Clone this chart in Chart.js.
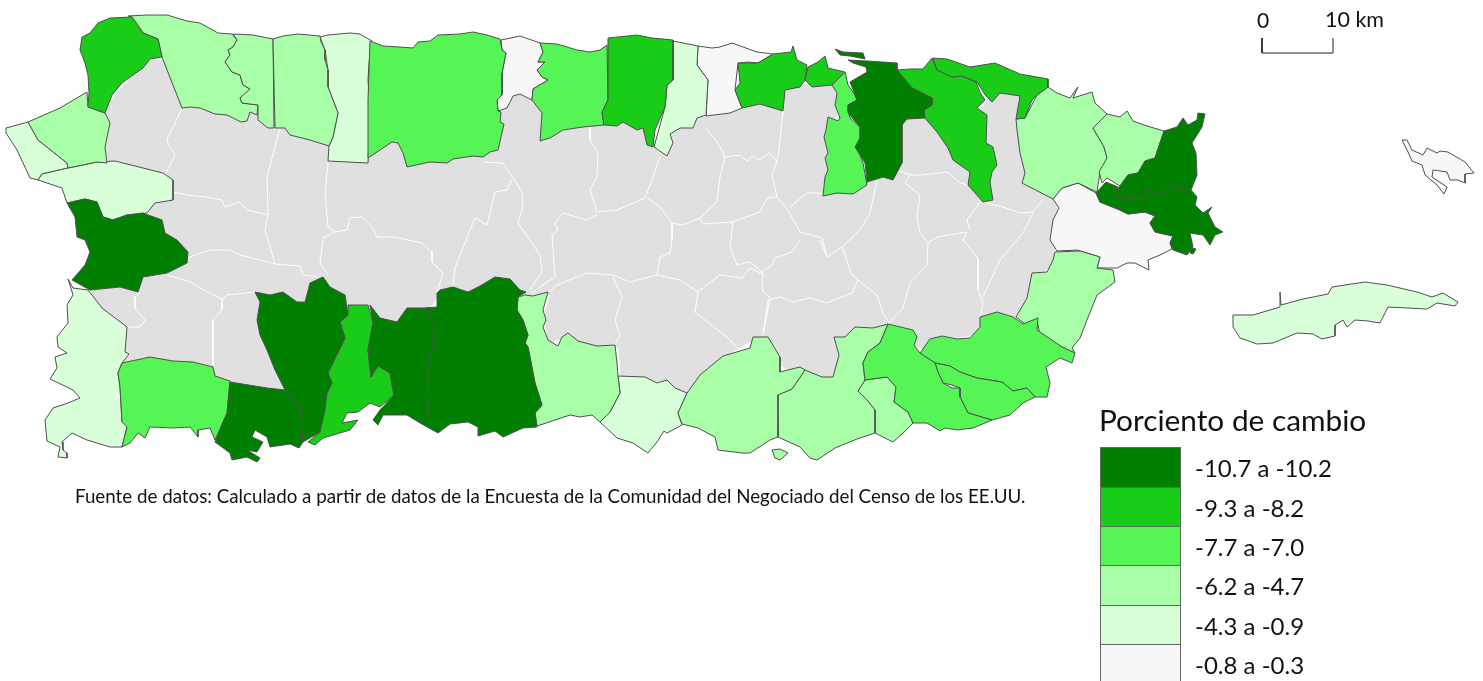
<!DOCTYPE html>
<html lang="es">
<head>
    <meta charset="UTF-8">
    <script src="https://cdn.jsdelivr.net/npm/chart.js"></script>
    <title>Porciento de cambio</title>
    <style>
        html, body { margin: 0; padding: 0; background: #fff; overflow: hidden; }
        #wrap { position: relative; width: 1483px; height: 681px; font-family: Lato, sans-serif; color: #111; }
        #mapa { position: absolute; left: 0; top: 0; }
        .txt { position: absolute; white-space: nowrap; line-height: 1; }
        .swatch { position: absolute; left: 1100px; width: 81px; box-sizing: border-box; border: 1px solid #666; }
    </style>
</head>
<body>
<div id="wrap">
    <canvas id="mapa" width="1483" height="681"></canvas>
</div>
<script>
// clases de la leyenda
const legendTitle = 'Porciento de cambio';
const legendLabels = ['-10.7 a -10.2', '-9.3 a -8.2', '-7.7 a -7.0', '-6.2 a -4.7', '-4.3 a -0.9', '-0.8 a -0.3'];
const classColors = ['#007f00', '#18cc18', '#55f555', '#a8ffa8', '#d9ffd9', '#f7f7f7'];
const restColor = '#e0e0e0';
const sourceText = 'Fuente de datos: Calculado a partir de datos de la Encuesta de la Comunidad del Negociado del Censo de los EE.UU.';

// contornos, en pixeles
const interior = [[110,100],[147,60],[170,60],[190,105],[260,110],[300,125],[335,130],[350,150],[380,145],[400,140],[420,150],[490,145],[497,130],[500,108],[520,90],[530,92],[545,115],[545,135],[600,120],[620,118],[640,125],[650,140],[665,140],[670,120],[700,110],[740,105],[780,100],[790,85],[830,83],[840,95],[835,130],[835,190],[850,190],[875,175],[895,175],[897,125],[905,115],[925,115],[940,130],[955,155],[975,175],[975,188],[985,198],[985,170],[985,145],[980,110],[990,95],[1000,90],[1022,93],[1020,118],[1022,150],[1030,180],[1056,200],[1058,215],[1055,245],[1055,262],[1040,275],[1030,300],[1020,318],[1000,318],[982,320],[975,335],[945,340],[925,350],[910,345],[910,335],[888,328],[870,332],[850,335],[840,340],[842,355],[836,380],[820,380],[810,376],[790,372],[776,362],[760,342],[750,342],[723,358],[712,368],[700,378],[687,396],[675,390],[667,383],[645,380],[620,380],[620,365],[618,347],[597,349],[578,345],[568,336],[560,340],[548,343],[545,325],[545,310],[550,295],[525,295],[510,285],[495,282],[480,290],[453,292],[437,297],[428,312],[407,312],[397,325],[380,320],[370,308],[348,308],[330,290],[323,280],[310,287],[305,305],[285,296],[270,298],[262,300],[262,320],[270,350],[280,372],[290,394],[265,392],[230,385],[213,378],[193,366],[150,360],[122,366],[122,340],[95,305],[88,289],[110,280],[150,270],[180,258],[160,235],[150,218],[148,208],[165,190],[120,175],[100,150],[100,120]];

const aguadilla = [[132,17],[143,33],[158,39],[162,57],[150,59],[143,68],[133,75],[122,83],[112,95],[105,113],[88,107],[89,93],[88,75],[85,63],[80,50],[82,37],[90,33],[98,23],[110,18]];
const isabela = [[128,16],[147,15],[167,15],[187,21],[200,23],[218,33],[232,34],[237,40],[233,47],[228,50],[230,55],[225,62],[232,72],[240,75],[243,85],[250,89],[247,95],[240,98],[242,103],[258,105],[257,115],[250,112],[247,121],[241,122],[227,115],[215,114],[200,108],[190,107],[182,108],[162,57],[158,39],[143,33],[132,17]];
const quebradillas = [[233,34],[253,35],[273,39],[274,128],[268,128],[258,120],[258,105],[242,103],[240,98],[250,89],[243,85],[240,75],[232,72],[225,62],[230,55],[228,50],[233,47],[237,40]];
const camuy = [[273,39],[283,36],[298,34],[320,36],[321,42],[325,50],[325,60],[328,70],[328,87],[333,100],[338,113],[333,137],[329,146],[310,140],[290,135],[285,128],[275,128]];
const hatillo = [[320,37],[328,35],[350,33],[360,34],[372,41],[369,63],[368,80],[370,110],[368,163],[328,161],[329,146],[333,137],[338,113],[328,87],[328,70],[325,50]];
const arecibo = [[370,41],[383,46],[400,47],[413,48],[418,42],[430,41],[438,35],[460,34],[473,32],[487,35],[500,39],[502,50],[506,53],[502,73],[502,95],[497,100],[498,111],[501,112],[500,122],[504,124],[498,150],[490,152],[483,157],[473,156],[453,159],[447,163],[430,162],[407,167],[403,153],[398,143],[392,142],[368,158],[368,100]];
const barceloneta = [[501,40],[520,36],[540,43],[543,52],[538,62],[545,62],[537,70],[542,77],[548,80],[533,89],[532,100],[520,94],[513,96],[507,108],[498,111],[497,100],[502,95],[502,73],[506,53],[502,50]];
const manati = [[540,43],[557,44],[577,50],[590,52],[600,50],[607,45],[608,100],[602,112],[604,125],[583,127],[563,130],[550,138],[540,141],[542,113],[532,100],[533,89],[548,80],[542,77],[537,70],[545,62],[538,62],[543,52]];
const vegaBaja = [[608,38],[637,35],[652,38],[673,40],[673,80],[667,85],[665,107],[655,130],[653,147],[647,145],[643,128],[637,130],[623,122],[617,126],[604,125],[602,112],[608,100]];
const vegaAlta = [[673,41],[698,46],[697,65],[708,80],[706,115],[697,118],[693,128],[680,128],[670,134],[673,143],[667,156],[654,147],[665,107],[667,85],[673,80]];
const dorado = [[698,46],[712,48],[720,47],[732,43],[757,52],[773,54],[758,63],[748,62],[738,63],[735,90],[742,108],[730,113],[706,116],[708,80],[697,65]];
const toaBaja = [[738,63],[758,63],[773,54],[791,52],[793,46],[797,60],[807,65],[805,80],[800,87],[785,90],[783,111],[760,104],[742,108],[735,90],[740,83]];
const catano = [[808,67],[818,62],[825,56],[828,68],[845,72],[832,85],[812,87],[805,80]];
const guaynabo = [[845,72],[832,85],[837,93],[835,105],[840,118],[838,121],[828,117],[826,130],[824,137],[828,153],[825,158],[828,170],[825,177],[823,196],[837,193],[853,194],[867,185],[863,163],[857,147],[860,138],[860,127],[850,118],[848,110],[848,105],[857,100],[855,95],[848,85]];
const sanJuan = [[848,60],[867,61],[897,63],[897,70],[912,88],[932,98],[932,105],[924,110],[925,118],[907,119],[902,125],[902,163],[893,180],[883,177],[867,182],[865,163],[855,147],[860,138],[860,127],[848,113],[848,105],[857,100],[850,82],[867,72],[866,67],[853,63]];
const sanJuanIsleta = [[835,49],[843,52],[863,53],[865,59],[850,56],[840,55]];
const carolina = [[897,70],[910,69],[923,69],[932,58],[937,70],[952,77],[962,76],[976,82],[980,92],[985,100],[977,108],[987,115],[986,143],[993,147],[997,165],[992,172],[990,182],[993,200],[983,202],[968,185],[970,172],[953,160],[948,148],[937,132],[924,117],[924,110],[932,105],[932,98],[912,88]];
const loiza = [[933,58],[947,59],[970,67],[995,63],[1020,74],[1048,79],[1048,87],[1037,95],[1032,100],[1025,118],[1016,119],[1020,96],[1000,93],[992,102],[985,95],[977,82],[962,76],[952,77],[937,70]];
const rioGrande = [[1048,87],[1057,93],[1070,98],[1078,87],[1073,98],[1092,92],[1095,103],[1107,114],[1093,128],[1104,147],[1107,158],[1100,172],[1097,192],[1078,183],[1062,188],[1053,199],[1022,183],[1025,173],[1020,153],[1017,130],[1016,119],[1025,118],[1037,95]];
const luquillo = [[1107,114],[1120,117],[1127,111],[1133,121],[1147,126],[1164,131],[1155,158],[1145,161],[1138,173],[1128,175],[1120,186],[1107,178],[1102,183],[1099,172],[1107,158],[1104,147],[1093,128]];
const fajardo = [[1164,131],[1177,127],[1183,118],[1188,125],[1197,120],[1198,113],[1205,114],[1202,127],[1192,143],[1196,153],[1197,175],[1191,190],[1170,187],[1158,196],[1147,190],[1142,200],[1120,198],[1115,192],[1120,186],[1128,175],[1138,173],[1145,161],[1155,158]];
const ceiba = [[1191,190],[1197,197],[1195,205],[1203,213],[1212,207],[1208,213],[1215,227],[1223,232],[1215,235],[1210,245],[1203,235],[1190,233],[1193,247],[1187,255],[1173,250],[1170,243],[1173,236],[1155,232],[1150,223],[1155,216],[1145,212],[1128,214],[1120,210],[1100,202],[1096,193],[1106,182],[1118,187],[1115,192],[1120,198],[1142,200],[1147,190],[1158,196],[1170,187]];
const ceibaCayo = [[1192,248],[1196,249],[1193,254],[1190,253]];
const humacao = [[1053,199],[1062,188],[1078,183],[1096,193],[1100,202],[1120,210],[1128,214],[1145,212],[1155,216],[1150,223],[1155,232],[1173,236],[1170,243],[1172,249],[1160,255],[1148,260],[1149,270],[1135,263],[1127,263],[1117,268],[1108,268],[1097,268],[1100,257],[1077,250],[1057,251],[1050,240],[1053,220],[1059,208]];
const yabucoa = [[1055,252],[1080,251],[1100,257],[1097,268],[1113,270],[1115,282],[1097,295],[1087,320],[1080,338],[1072,348],[1075,353],[1062,347],[1040,335],[1037,320],[1025,324],[1016,317],[1027,298],[1032,273],[1047,272],[1053,260]];
const maunabo = [[980,317],[997,312],[1013,317],[1023,324],[1038,318],[1037,330],[1062,347],[1075,353],[1072,363],[1060,358],[1046,367],[1050,383],[1047,397],[1035,397],[1027,388],[1013,391],[1002,382],[977,378],[960,372],[950,366],[935,363],[920,353],[930,339],[942,336],[957,339],[970,338],[980,327]];
const patillas = [[935,363],[950,366],[960,372],[977,378],[1002,382],[1013,391],[1027,388],[1035,397],[1023,403],[1010,415],[992,420],[968,413],[960,397],[960,388],[952,385],[943,383],[938,372]];
const guayama = [[888,324],[913,330],[917,337],[914,345],[920,353],[935,363],[938,372],[943,383],[952,388],[960,388],[960,397],[968,413],[992,420],[973,428],[957,430],[945,428],[940,431],[927,423],[913,423],[908,412],[894,402],[896,387],[887,377],[865,380],[863,363],[868,352],[880,343]];
const arroyoOeste = [[887,377],[896,387],[894,402],[908,412],[913,423],[903,433],[893,442],[875,433],[875,410],[867,400],[858,391],[865,380]];
const salinas = [[855,327],[873,328],[888,324],[880,343],[868,352],[863,363],[865,380],[858,391],[867,400],[875,410],[875,433],[857,439],[835,448],[817,460],[810,458],[800,447],[778,437],[777,395],[792,389],[805,370],[822,377],[833,377],[839,355],[834,337],[845,337]];
const salinasCayo = [[772,450],[780,449],[788,453],[780,460],[775,458]];
const santaIsabel = [[753,337],[768,337],[780,357],[780,372],[800,367],[805,370],[792,389],[778,395],[778,437],[770,440],[750,453],[742,453],[718,450],[715,437],[698,428],[682,424],[678,413],[687,393],[700,375],[712,365],[723,356],[750,348]];
const ponce = [[618,376],[645,377],[657,383],[667,380],[675,388],[687,393],[678,413],[682,425],[667,433],[664,431],[657,442],[648,453],[633,443],[617,438],[600,422],[610,412],[620,393]];
const juanaDiaz = [[518,297],[525,295],[533,296],[548,292],[543,310],[546,320],[543,327],[548,340],[558,346],[562,337],[568,333],[578,341],[597,346],[615,345],[617,363],[618,376],[620,393],[610,412],[600,422],[592,415],[580,417],[570,415],[537,426],[535,413],[542,405],[535,383],[528,347],[525,343],[528,335],[523,320],[517,310]];
const penuelas = [[437,293],[440,290],[453,287],[468,292],[480,286],[495,277],[510,279],[520,290],[526,292],[518,297],[517,310],[523,320],[528,335],[525,343],[528,347],[535,383],[542,405],[535,413],[537,427],[523,428],[503,437],[495,431],[478,436],[478,427],[468,422],[450,424],[438,433],[420,423],[428,413],[427,373],[435,337],[425,308],[437,307]];
const guayanilla = [[370,305],[380,318],[397,322],[407,308],[428,308],[435,337],[427,373],[428,413],[420,423],[407,415],[383,415],[378,425],[373,420],[380,410],[394,395],[390,373],[378,366],[371,377],[368,350],[373,323]];
const sabanaGrande = [[348,305],[368,305],[373,323],[368,350],[371,377],[378,366],[390,373],[394,395],[380,407],[370,403],[358,412],[347,413],[342,423],[358,420],[350,430],[323,438],[315,445],[308,442],[320,432],[322,413],[327,393],[332,383],[328,373],[345,338],[340,322],[348,315]];
const yauco = [[255,292],[270,295],[283,292],[297,302],[305,302],[310,283],[323,277],[330,287],[345,295],[348,315],[340,322],[345,338],[328,373],[332,383],[327,393],[325,410],[320,432],[303,442],[300,407],[285,390],[275,370],[267,350],[260,335],[257,320],[260,302]];
const guanica = [[230,382],[267,388],[285,390],[300,407],[303,442],[299,448],[290,444],[270,447],[267,437],[255,430],[252,437],[263,442],[257,452],[247,450],[260,458],[257,462],[247,457],[232,460],[230,453],[215,442],[227,413]];
const lajas = [[122,363],[150,357],[173,361],[193,362],[213,367],[215,376],[230,381],[227,413],[215,440],[210,428],[198,430],[198,437],[190,427],[173,428],[150,427],[145,438],[138,433],[130,443],[122,447],[127,427],[122,422],[120,387],[118,373]];
const caboRojo = [[68,279],[73,288],[88,290],[102,308],[127,327],[125,352],[129,354],[122,363],[118,373],[120,387],[122,422],[127,427],[122,447],[110,447],[87,440],[72,433],[62,442],[63,450],[67,453],[67,458],[58,457],[60,447],[47,441],[45,420],[53,408],[68,403],[80,398],[73,390],[50,379],[57,368],[55,357],[67,353],[58,347],[57,337],[68,323],[67,305],[73,295]];
const mayaguez = [[67,203],[85,199],[97,202],[103,217],[113,220],[127,215],[143,213],[162,220],[165,233],[177,240],[188,252],[187,263],[167,273],[143,277],[138,292],[120,287],[90,290],[72,280],[85,265],[90,252],[85,240],[77,237],[75,217]];
const anasco = [[38,180],[42,174],[68,168],[97,162],[115,161],[163,173],[173,180],[173,200],[155,203],[147,213],[127,215],[113,220],[103,217],[97,202],[85,199],[67,203],[62,188]];
const rincon = [[6,128],[28,122],[38,140],[67,163],[68,168],[42,174],[38,180],[30,178],[17,150],[6,133]];
const aguada = [[28,122],[60,108],[87,92],[88,107],[105,113],[110,123],[105,147],[107,163],[97,162],[68,168],[67,163],[38,140]];
const vieques = [[1233,315],[1253,315],[1280,307],[1280,292],[1281,305],[1303,299],[1328,294],[1332,287],[1365,282],[1387,285],[1417,292],[1432,297],[1443,293],[1458,302],[1455,306],[1437,303],[1427,309],[1388,307],[1380,323],[1368,321],[1355,320],[1347,327],[1343,320],[1335,325],[1335,336],[1322,339],[1313,334],[1297,333],[1273,343],[1257,344],[1240,338],[1233,327]];
const culebra = [[1402,140],[1407,140],[1412,150],[1423,155],[1427,148],[1437,153],[1440,151],[1448,152],[1465,162],[1474,173],[1465,174],[1465,183],[1458,180],[1450,180],[1447,172],[1433,170],[1432,177],[1447,187],[1444,194],[1437,185],[1425,175],[1422,165],[1412,161],[1408,152]];

// limites blancos dentro del area sin clase
const internalLines = [
    [[182,108],[175,123],[168,137],[167,142],[175,155],[165,175]],
    [[173,192],[187,195],[207,197],[222,200],[225,207],[240,202],[247,210],[268,215],[265,230],[268,240],[275,264]],
    [[280,128],[267,177],[268,215]],
    [[328,163],[325,193],[328,227],[335,232],[323,238],[320,263],[328,275]],
    [[335,232],[347,230],[350,218],[362,217],[373,228],[377,237],[393,237],[422,243],[432,252],[432,262],[443,273],[437,292]],
    [[483,162],[503,163],[513,178],[522,192],[523,207],[518,223],[530,240],[540,255],[542,272],[530,290]],
    [[512,180],[507,190],[495,192],[490,213],[487,225],[475,218],[470,230],[462,250],[455,268],[453,285]],
    [[590,127],[590,140],[598,153],[597,177],[590,190],[597,212],[617,210],[645,198],[650,185],[660,157]],
    [[597,215],[587,220],[563,213],[555,223],[558,230],[552,235],[555,277],[540,287],[532,293]],
    [[648,198],[660,207],[672,223],[683,225],[700,218],[717,202],[720,177],[725,157],[718,143],[705,127]],
    [[725,157],[740,155],[747,161],[753,156],[758,160],[770,153],[778,163]],
    [[700,218],[703,224],[733,222],[760,212],[767,198],[777,197]],
    [[672,223],[672,240],[670,253],[660,257],[657,275]],
    [[733,222],[730,247],[737,265],[750,262],[763,273],[762,290],[770,298],[763,335]],
    [[783,90],[783,113],[778,157],[772,175],[777,197],[788,210],[800,232],[822,238],[827,257]],
    [[822,193],[807,193],[790,207]],
    [[877,180],[870,213],[860,230],[842,247],[827,257],[820,240]],
    [[842,247],[852,275],[858,280],[877,295],[883,313],[890,324]],
    [[800,240],[792,252],[775,258],[772,265],[760,273],[750,268],[742,278],[720,275],[698,292],[695,312],[728,338],[739,350]],
    [[858,280],[852,293],[827,303],[810,298],[793,302],[780,297],[768,300],[763,335]],
    [[890,322],[903,308],[910,283],[927,265],[928,243],[920,233],[917,217],[920,195],[905,183],[910,175]],
    [[897,170],[910,175],[923,175],[947,172],[960,183],[968,185]],
    [[928,243],[937,237],[967,232],[963,240],[978,258],[978,290],[983,303],[980,318]],
    [[983,297],[1000,260],[1023,233],[1033,213]],
    [[980,202],[967,220],[970,230]],
    [[983,202],[1003,207],[1020,213],[1033,212],[1043,200]],
    [[698,292],[680,280],[657,275],[630,282],[613,275],[587,273],[557,285],[548,292]],
    [[613,277],[622,297],[615,320],[620,335],[615,345]],
    [[187,258],[210,250],[230,250],[240,255],[275,264],[300,266],[303,275],[317,277]],
    [[167,275],[190,282],[207,292],[222,299],[222,310],[213,320],[213,365]],
    [[222,299],[227,295],[255,292]],
    [[140,293],[135,297],[135,308],[145,320],[140,327],[128,327]]
];

// barra de escala
const scaleBar = [[1262,38],[1262,53],[1333,53],[1333,38]];
const scaleLabels = ['0', '10 km'];

// municipios por clase, en el orden en que se pintan
const byClass = [
    [mayaguez, yauco, guanica, penuelas, guayanilla, sanJuan, sanJuanIsleta, fajardo, ceiba, ceibaCayo],
    [aguadilla, vegaBaja, toaBaja, catano, carolina, loiza, sabanaGrande],
    [arecibo, manati, guaynabo, maunabo, patillas, guayama, lajas],
    [isabela, quebradillas, camuy, aguada, rioGrande, luquillo, yabucoa, arroyoOeste, salinas, salinasCayo, santaIsabel, juanaDiaz],
    [hatillo, vegaAlta, rincon, anasco, caboRojo, ponce, vieques],
    [barceloneta, dorado, humacao, culebra]
];

function closed(points) {
    return points.concat([points[0]]);
}

function polygon(points, color) {
    return {
        data: closed(points),
        showLine: true,
        fill: 'shape',
        backgroundColor: color,
        borderColor: '#4f4f4f',
        borderWidth: 1,
        borderJoinStyle: 'round',
        pointRadius: 0
    };
}

var datasets = [];
var base = polygon(interior, restColor);
base.borderWidth = 0;
datasets.push(base);

for (var i = 0; i < internalLines.length; i++) {
    datasets.push({ data: internalLines[i], showLine: true, fill: false, borderColor: '#ffffff', borderWidth: 1, pointRadius: 0 });
}

// las clases claras van debajo para que los bordes oscuros queden arriba
for (var c = byClass.length - 1; c >= 0; c--) {
    for (var m = 0; m < byClass[c].length; m++) {
        datasets.push(polygon(byClass[c][m], classColors[c]));
    }
}

datasets.push({ data: scaleBar, showLine: true, fill: false, borderColor: '#222222', borderWidth: 1, pointRadius: 0 });

// Chart.js pinta primero el ultimo dataset
datasets.reverse();

new Chart(document.getElementById('mapa').getContext('2d'), {
    type: 'scatter',
    data: { datasets: datasets },
    options: {
        responsive: false,
        animation: false,
        layout: { padding: 0 },
        plugins: { legend: { display: false }, tooltip: { enabled: false } },
        scales: {
            x: { type: 'linear', min: 0, max: 1483, display: false },
            y: { type: 'linear', min: 0, max: 681, reverse: true, display: false }
        }
    }
});

// textos y leyenda
var wrap = document.getElementById('wrap');

function addText(text, left, top, size) {
    var d = document.createElement('div');
    d.className = 'txt';
    d.textContent = text;
    d.style.left = left + 'px';
    d.style.top = top + 'px';
    d.style.fontSize = size + 'px';
    wrap.appendChild(d);
    return d;
}

addText(scaleLabels[0], 1257, 9, 21);
addText(scaleLabels[1], 1325, 9, 21.5);
addText(legendTitle, 1099, 405, 29.8);
addText(sourceText, 75, 487, 18.75);

const swatchTops = [447, 487, 526, 565, 605, 644];
for (var k = 0; k < legendLabels.length; k++) {
    var s = document.createElement('div');
    s.className = 'swatch';
    s.style.top = swatchTops[k] + 'px';
    s.style.height = (k < 5 ? swatchTops[k + 1] - swatchTops[k] + 1 : 40) + 'px';
    s.style.background = classColors[k];
    wrap.appendChild(s);
    addText(legendLabels[k], 1195, swatchTops[k] + 9, 24);
}
</script>
</body>
</html>
